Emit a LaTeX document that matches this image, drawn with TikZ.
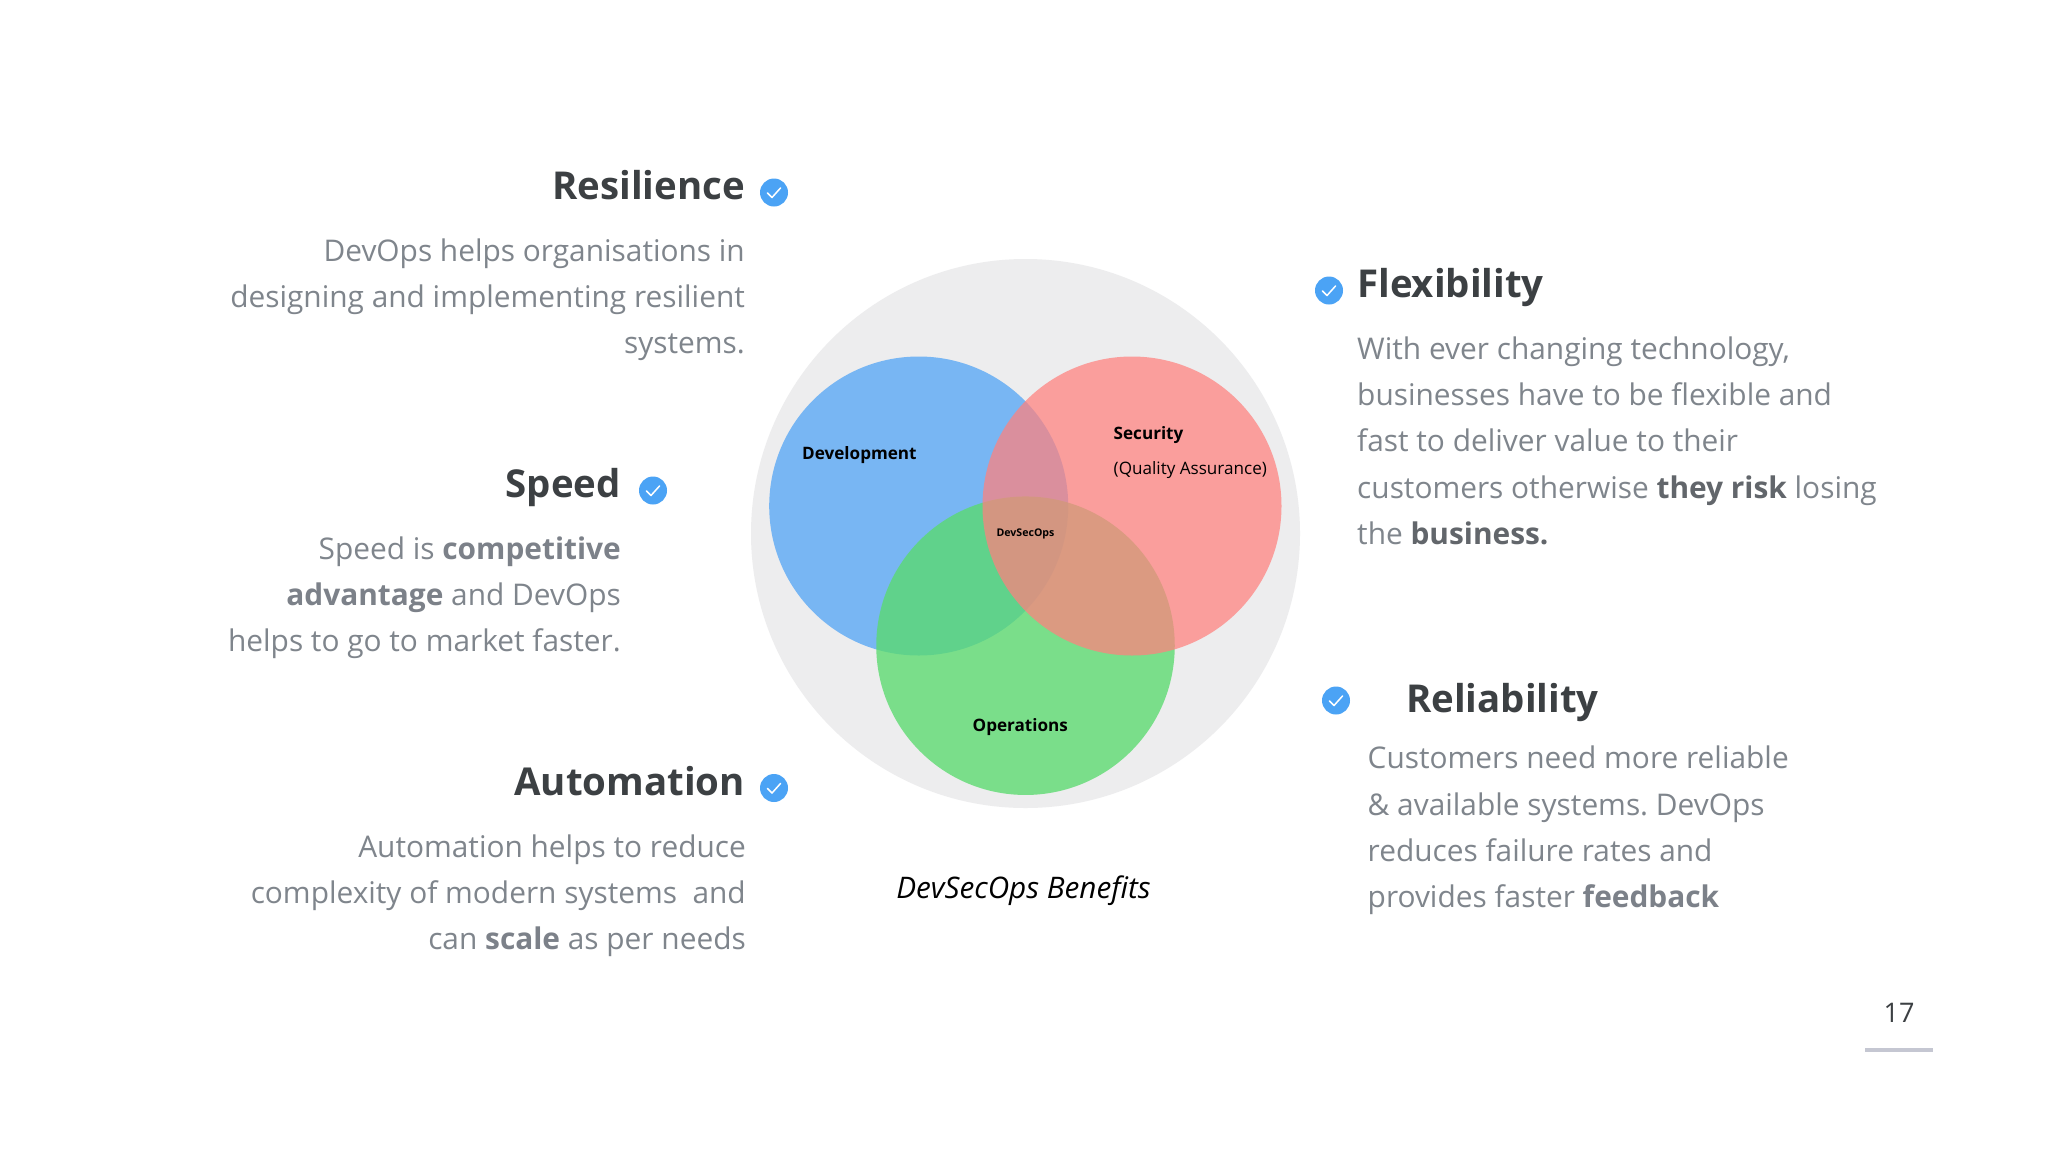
\documentclass[tikz,border=0pt]{standalone}
\usepackage{fontspec}
\setmainfont{Open Sans}
\usetikzlibrary{calc}
\frenchspacing
\definecolor{bodygrey}{HTML}{7F858C}
\definecolor{boldgrey}{HTML}{7C8189}
\definecolor{darkbold}{HTML}{62666B}
\definecolor{titlegrey}{HTML}{3C4043}
\definecolor{tickblue}{HTML}{4BA3F5}
\definecolor{outerfill}{HTML}{EDEDEE}
\definecolor{devfill}{HTML}{78B6F3}
\definecolor{opsfill}{HTML}{5ADB6E}
\definecolor{secfill}{HTML}{FF817E}
\definecolor{rulegrey}{HTML}{C5C7D2}
\tikzset{
  titletext/.style={inner sep=0pt,text=titlegrey,font=\fontsize{38.4}{50}\selectfont\bfseries},
  bodytext/.style={inner sep=0pt,text=bodygrey,font=\fontsize{29.85}{46.3}\selectfont},
  bodyright/.style={bodytext,align=right,anchor=north east},
  bodyleft/.style={bodytext,align=left,anchor=north west},
  vennlabel/.style={inner sep=0pt,text=black,font=\fontsize{17.1}{35}\selectfont},
  tickmark/.style={circle,fill=tickblue,minimum size=28pt,inner sep=0pt},
  tickline/.style={draw=white,line width=1.5pt,line cap=round,line join=round},
}
\newcommand{\tickat}[3]{%
  \node[tickmark] (#1) at (#2,#3) {};
  \draw[tickline] ($(#1)+(-6.5,0.5)$) -- ($(#1)+(-2,5)$) -- ($(#1)+(6.5,-4.5)$);
}
\newcommand{\hb}[1]{{\bfseries\color{boldgrey}#1}}
\newcommand{\hd}[1]{{\bfseries\color{darkbold}#1}}
\begin{document}
\begin{tikzpicture}[x=1pt,y=-1pt]
\useasboundingbox[fill=white] (0,0) rectangle (2048,1152);
% Venn
\node[circle,fill=outerfill,minimum size=549pt,inner sep=0pt] (outer) at (1025.5,533.5) {};
\node[circle,fill=devfill,minimum size=299pt,inner sep=0pt] (dev) at (918.7,506) {};
\node[circle,fill=opsfill,fill opacity=.78,minimum size=298.5pt,inner sep=0pt] (ops) at (1025.5,645.7) {};
\node[circle,fill=secfill,fill opacity=.73,minimum size=299pt,inner sep=0pt] (sec) at (1132,506) {};
\node[vennlabel,anchor=base west] (ldev) at (802,459) {\bfseries Development};
\node[vennlabel,anchor=base west] (lsec) at (1113.5,439) {\bfseries Security};
\node[vennlabel,anchor=base west] (lqa) at (1113.5,474) {(Quality Assurance)};
\node[vennlabel,anchor=base] (lops) at (1020.3,731) {\bfseries Operations};
\node[vennlabel,anchor=base,font=\fontsize{10.6}{13}\selectfont\bfseries] (lds) at (1025.5,536) {DevSecOps};
\node[inner sep=0pt,anchor=base,text=black,font=\fontsize{29.7}{36}\selectfont\itshape] (cap) at (1023.5,898) {DevSecOps Benefits};
% Left column
\node[titletext,anchor=base east] (tres) at (745,199) {Resilience};
\tickat{cres}{774}{192.5}
\node[bodyright] (bres) at (745,238.4) {DevOps helps organisations in\\designing and implementing resilient\\systems.};
\node[titletext,anchor=base east] (tspe) at (621,497) {Speed};
\tickat{cspe}{653}{490.5}
\node[bodyright] (bspe) at (621,536.4) {Speed is \hb{competitive}\\\hb{advantage} and DevOps\\helps to go to market faster.};
\node[titletext,anchor=base east] (taut) at (745,795) {Automation};
\tickat{caut}{774}{788}
\node[bodyright] (baut) at (746,834.4) {Automation helps to reduce\\complexity of modern systems~ and\\can \hb{scale} as per needs};
% Right column
\tickat{cfle}{1329}{290.5}
\node[titletext,anchor=base west] (tfle) at (1357,297) {Flexibility};
\node[bodyleft] (bfle) at (1357,336.4) {With ever changing technology,\\businesses have to be flexible and\\fast to deliver value to their\\customers otherwise \hd{they risk} losing\\the \hd{business.}};
\tickat{crel}{1336}{700.5}
\node[titletext,anchor=base west] (trel) at (1406,712) {Reliability};
\node[bodyleft] (brel) at (1367.5,746) {Customers need more reliable\\\& available systems. DevOps\\reduces failure rates and\\provides faster \hb{feedback}};
% Page number
\node[inner sep=0pt,anchor=base,text=titlegrey,font=\fontsize{27}{32}\selectfont] (pnum) at (1899,1022) {17};
\coordinate (rulea) at (1865,1050);
\coordinate (ruleb) at (1933,1050);
\draw[rulegrey,line width=4pt] (rulea) -- (ruleb);
\end{tikzpicture}
\end{document}
